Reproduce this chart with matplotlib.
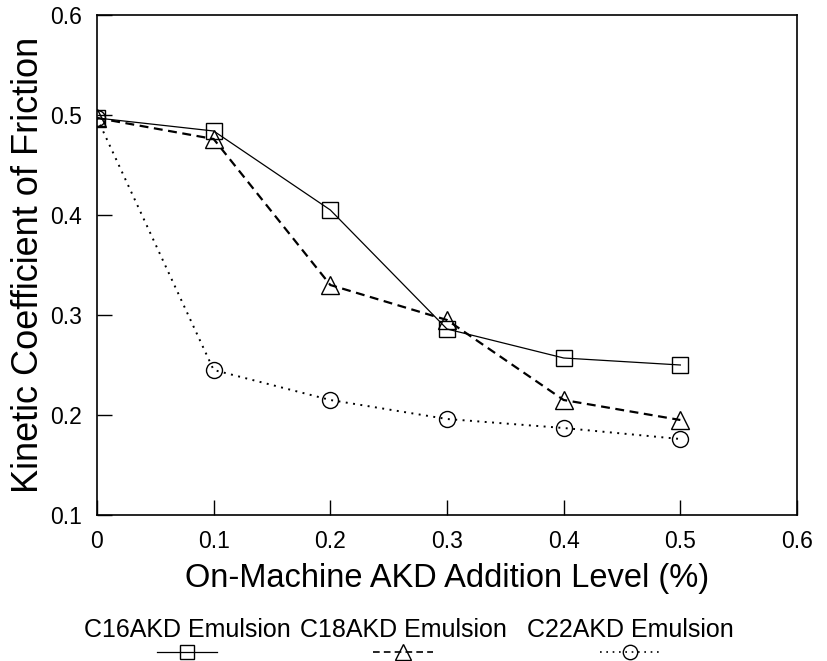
import matplotlib
matplotlib.use("Agg")
import matplotlib.pyplot as plt
from matplotlib.lines import Line2D

plt.rcParams['font.family'] = ['Liberation Sans', 'DejaVu Sans']

x = [0, 0.1, 0.2, 0.3, 0.4, 0.5]
c16 = [0.497, 0.484, 0.405, 0.286, 0.257, 0.250]
c18 = [0.497, 0.476, 0.330, 0.295, 0.215, 0.195]
c22 = [0.497, 0.245, 0.215, 0.196, 0.187, 0.176]
labels = ["C16AKD Emulsion", "C18AKD Emulsion", "C22AKD Emulsion"]
xticks = [0, 0.1, 0.2, 0.3, 0.4, 0.5, 0.6]
xticklabels = ["0", "0.1", "0.2", "0.3", "0.4", "0.5", "0.6"]
yticks = [0.1, 0.2, 0.3, 0.4, 0.5, 0.6]
yticklabels = ["0.1", "0.2", "0.3", "0.4", "0.5", "0.6"]

W, H = 828.0, 661.0
fig = plt.figure(figsize=(W / 100, H / 100), dpi=100)
ax = fig.add_axes([97 / W, 1 - 515 / H, 700 / W, 500 / H])

styles = [
    dict(linestyle='-', linewidth=0.9, marker='s', markersize=11),
    dict(linestyle=(0, (4, 2.5)), linewidth=1.6, marker='^', markersize=13.5),
    dict(linestyle=(0, (1, 2.8)), linewidth=1.4, marker='o', markersize=11.5),
]
for ys, st in zip([c16, c18, c22], styles):
    ax.plot(x, ys, color='black', markerfacecolor='none', markeredgecolor='black',
            markeredgewidth=1.0, **st)

ax.set_xlim(0, 0.6)
ax.set_ylim(0.1, 0.6)
ax.set_xticks(xticks)
ax.set_xticklabels(xticklabels)
ax.set_yticks(yticks)
ax.set_yticklabels(yticklabels)
ax.tick_params(direction='in', length=11, width=1, labelsize=16.5, pad=11)
for s in ax.spines.values():
    s.set_linewidth(1.2)
ax.set_xlabel("On-Machine AKD Addition Level (%)", fontsize=23.5, labelpad=7)
ax.set_ylabel("Kinetic Coefficient of Friction", fontsize=26, labelpad=3)

# custom legend below the axes
centers = [187, 403, 630]
for lab, cx, st in zip(labels, centers, styles):
    fig.text(cx / W, 1 - 630 / H, lab, ha='center', va='center', fontsize=18)
    ln = Line2D([(cx - 30) / W, (cx + 30) / W], [1 - 652 / H, 1 - 652 / H],
                transform=fig.transFigure, color='black',
                linestyle=st['linestyle'], linewidth=min(st['linewidth'], 1.2))
    fig.add_artist(ln)
    mk = Line2D([cx / W], [1 - 652 / H], transform=fig.transFigure, linestyle='none',
                marker=st['marker'], markersize=st['markersize'] * 0.9,
                markerfacecolor='none', markeredgecolor='black', markeredgewidth=1.0)
    fig.add_artist(mk)

fig.savefig("out.png", dpi=100)
